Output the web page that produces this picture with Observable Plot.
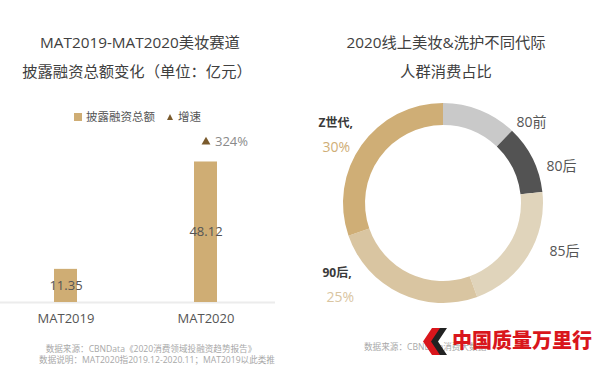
<!DOCTYPE html>
<html><head><meta charset="utf-8">
<script src="https://cdn.jsdelivr.net/npm/d3@7"></script>
<script src="https://cdn.jsdelivr.net/npm/@observablehq/plot@0.6"></script>
<style>
body{margin:0;background:#fff;}
#page{position:relative;width:600px;height:371px;overflow:hidden;font-family:"Open Sans","Noto Sans CJK SC",sans-serif;}
.abs{position:absolute;white-space:nowrap;}
.ctr{transform:translate(-50%,-50%);}
.title{font-size:15.3px;color:#404040;}
.cap{font-size:8.6px;line-height:9px;color:#a8a8a8;}
</style></head><body><div id="page"></div>
<script>
// ---- data ----
const periods = ["MAT2019", "MAT2020"];
const financing = [11.35, 48.12];
const growth = [null, 324];
const generations = ["80前", "80后", "85后", "90后", "Z世代"];
const shares = [12, 11, 21, 25, 30];
const genColors = ["#c9c9c9", "#535353", "#e0d4bb", "#d9c5a1", "#cfae76"];
const pctShown = ["90后", "Z世代"];

const FONT = '"Open Sans","Noto Sans CJK SC",sans-serif';
const page = document.getElementById("page");
function addDiv(html, css, cls) {
  const d = document.createElement("div");
  d.className = "abs " + (cls || "");
  d.style.cssText = css;
  d.innerHTML = html;
  page.appendChild(d);
  return d;
}

// ---- left chart ----
const barData = periods.map((p, i) => ({period: p, value: financing[i], growth: growth[i]}));
const growthData = barData.filter(d => d.growth != null);
const left = Plot.plot({
  width: 290, height: 200,
  marginLeft: 0, marginRight: 10, marginTop: 26, marginBottom: 28,
  style: {background: "transparent", fontFamily: FONT, fontSize: "13px", color: "#555"},
  x: {domain: periods, paddingInner: 0.836, paddingOuter: 0.418, label: null},
  y: {domain: [0, 50], axis: null},
  marks: [
    Plot.ruleY([0], {stroke: "#ececec", strokeWidth: 2}),
    Plot.barY(barData, {x: "period", y: "value", fill: "#cfad74"}),
    Plot.text(barData, {x: "period", y: d => d.value / 2, text: d => d.value.toFixed(2), fill: "#555", fontSize: 13}),
    Plot.dot(growthData, {x: "period", y: "value", symbol: "triangle", r: 3.3, fill: "#7a5a2c", stroke: null, dy: -20}),
    Plot.text(growthData, {x: "period", y: "value", text: d => d.growth + "%", dx: 9, dy: -20, textAnchor: "start", fill: "#8a8a8a", fontSize: 13}),
    Plot.axisX({tickSize: 0, tickPadding: 11, fontSize: 13, label: null})
  ]
});
left.style.position = "absolute";
left.style.left = "-5px";
left.style.top = "130px";
page.appendChild(left);

// ---- right chart (donut) ----
const CX = 143, CY = 113, R_OUT = 100, R_IN = 78;
const genData = generations.map((g, i) => ({gen: g, value: shares[i]}));
const color = Plot.scale({color: {domain: generations, range: genColors}});
const ringMark = () => {
  const arcs = d3.pie().sort(null).value(d => d.value)(genData);
  const arc = d3.arc().innerRadius(R_IN).outerRadius(R_OUT);
  const g = d3.create("svg:g").attr("transform", `translate(${CX},${CY})`);
  g.selectAll("path").data(arcs).join("path").attr("d", arc).attr("fill", d => color.apply(d.data.gen));
  return g.node();
};
// label placement (layout, relative to ring centre)
const labelLayout = {"80前": [73, -81], "80后": [103, -37], "85后": [106, 48], "90后": [-121, 70], "Z世代": [-125, -80]};
const nameRows = genData.map(d => ({...d, bold: pctShown.includes(d.gen), lx: CX + labelLayout[d.gen][0], ly: CY + labelLayout[d.gen][1]}));
const pctRows = nameRows.filter(d => d.bold);
const right = Plot.plot({
  width: 300, height: 260, margin: 0,
  style: {background: "transparent", fontFamily: FONT},
  x: {type: "identity", axis: null},
  y: {type: "identity", axis: null},
  marks: [
    ringMark,
    Plot.text(nameRows.filter(d => !d.bold), {x: "lx", y: "ly", text: "gen", textAnchor: "start", fill: "#555", fontSize: 14}),
    Plot.text(pctRows, {x: "lx", y: "ly", text: d => d.gen + ",", textAnchor: "start", fill: "#3a3a3a", fontSize: 12, fontWeight: "bold"}),
    Plot.text(pctRows, {x: d => d.lx + 4, y: d => d.ly + 24, text: d => d.value + "%", textAnchor: "start", fill: d => color.apply(d.gen), fontSize: 14})
  ]
});
right.style.position = "absolute";
right.style.left = "300px";
right.style.top = "90px";
page.appendChild(right);

// ---- titles, legend, captions ----
addDiv("MAT2019-MAT2020美妆赛道", "left:140px;top:41px;", "ctr title");
addDiv("披露融资总额变化（单位：亿元）", "left:137px;top:70px;", "ctr title");
addDiv("2020线上美妆&amp;洗护不同代际", "left:446px;top:41px;", "ctr title");
addDiv("人群消费占比", "left:446px;top:70px;", "ctr title");

addDiv('<span style="display:inline-block;width:8px;height:8px;background:#cfad74;margin-right:4px;vertical-align:-0px"></span>披露融资总额', "left:74px;top:108px;font-size:11.5px;color:#555;");
addDiv('<span style="display:inline-block;width:0;height:0;border-left:3px solid transparent;border-right:3px solid transparent;border-bottom:6px solid #7a5a2c;margin-right:5px;vertical-align:1px"></span>增速', "left:167px;top:108px;font-size:11.5px;color:#555;");

addDiv("数据来源：CBNData《2020消费领域投融资趋势报告》", "left:151px;top:349px;", "ctr cap");
addDiv("数据说明：MAT2020指2019.12-2020.11；MAT2019以此类推", "left:157px;top:360px;", "ctr cap");
addDiv("数据来源：CBNData消费大数据", "left:364px;top:343px;", "cap");

// watermark
addDiv('<svg width="26" height="27" viewBox="0 0 26 27"><polygon points="13,0 24,0 15,13.5 24,27 13,27 4,13.5" fill="#222"/><polygon points="9,0 17,0 8,13.5 17,27 9,27 0,13.5" fill="#d9161c"/></svg>', "left:423px;top:328px;");
addDiv("中国质量万里行", "left:452px;top:325px;font-size:20px;font-weight:900;color:#d9161c;font-family:'Noto Sans CJK SC',sans-serif;");
</script></body></html>
